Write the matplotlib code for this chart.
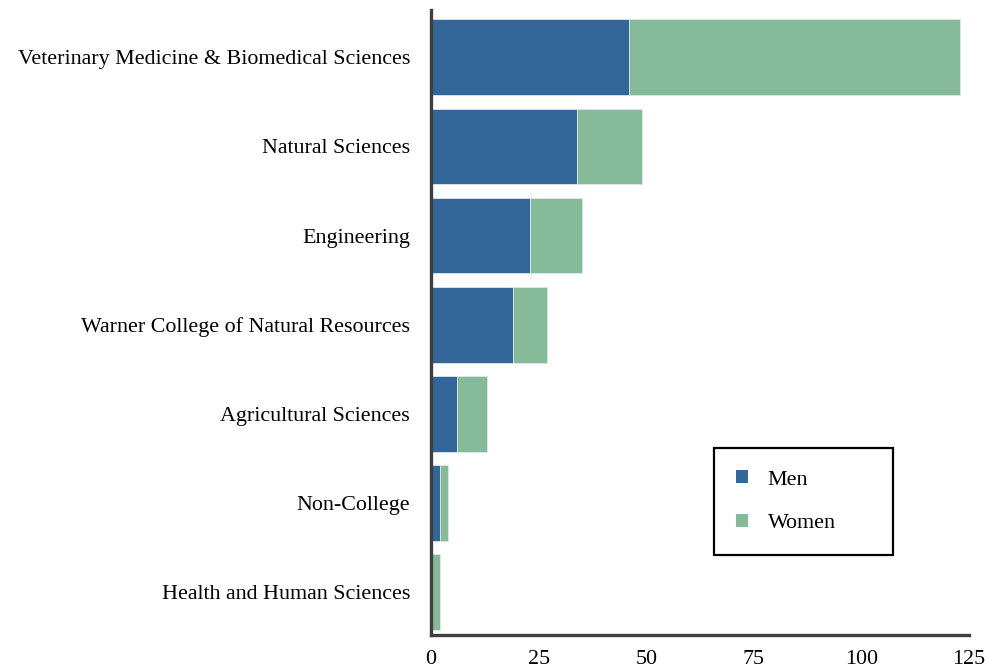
import matplotlib
matplotlib.use("Agg")
import matplotlib.pyplot as plt
from matplotlib.patches import Patch

colleges = [
    "Veterinary Medicine & Biomedical Sciences",
    "Natural Sciences",
    "Engineering",
    "Warner College of Natural Resources",
    "Agricultural Sciences",
    "Non-College",
    "Health and Human Sciences",
]
men = [46, 34, 23, 19, 6, 2, 0]
women = [77, 15, 12, 8, 7, 2, 2]
xticks = [0, 25, 50, 75, 100, 125]

men_color = "#336699"
women_color = "#86bb99"
axis_color = "#404040"

plt.rcParams["font.family"] = ["Liberation Serif", "DejaVu Serif"]

fig = plt.figure(figsize=(9.89, 6.71), dpi=100)
ax = fig.add_axes([0.4358, 0.0537, 0.5440, 0.9313])

ypos = list(range(len(colleges)))
ax.barh(ypos, men, height=0.85, color=men_color, edgecolor="#dde6ee", linewidth=0.6)
ax.barh(ypos, women, left=men, height=0.85, color=women_color, edgecolor="#dde6ee", linewidth=0.6)

ax.set_yticks(ypos)
ax.set_yticklabels(colleges, fontsize=15.8)
ax.set_xticks(xticks)
ax.set_xticklabels([str(t) for t in xticks], fontsize=15.8)
ax.set_xlim(0, 125)
ax.set_ylim(6.48, -0.53)

ax.tick_params(axis="y", length=0, pad=15)
ax.tick_params(axis="x", length=0, pad=11)

for side in ("top", "right"):
    ax.spines[side].set_visible(False)
for side in ("left", "bottom"):
    ax.spines[side].set_color(axis_color)
    ax.spines[side].set_linewidth(2.4)

handles = [Patch(facecolor=men_color, edgecolor="none", label="Men"),
           Patch(facecolor=women_color, edgecolor="none", label="Women")]
leg = fig.legend(handles=handles, loc="upper left",
                 bbox_to_anchor=(0.722, 0.182, 0.181, 0.150),
                 bbox_transform=fig.transFigure, mode="expand",
                 fontsize=15.8, frameon=True, fancybox=False,
                 handlelength=0.55, handleheight=0.55, handletextpad=0.9,
                 labelspacing=1.1, borderpad=1.0, borderaxespad=0)
frame = leg.get_frame()
frame.set_edgecolor("black")
frame.set_linewidth(1.6)
frame.set_facecolor("white")
frame.set_alpha(1)

fig.savefig("out.png", dpi=100)
